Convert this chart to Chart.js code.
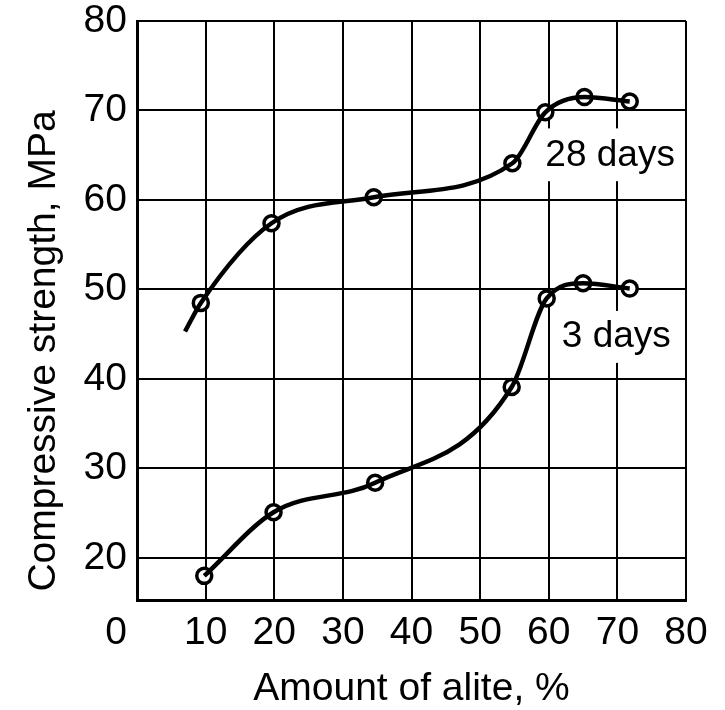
<!DOCTYPE html>
<html><head><meta charset="utf-8">
<script src="https://cdn.jsdelivr.net/npm/chart.js@4.4.1/dist/chart.umd.min.js"></script>
<style>html,body{margin:0;padding:0;background:#fff}#wrap{width:725px;height:710px;position:relative}</style>
</head><body><div id="wrap"><canvas id="c"></canvas></div>
<script>
const FONT = "'Liberation Sans', Arial, Helvetica, sans-serif";

// ---- data ----
const xTickValues = [0, 10, 20, 30, 40, 50, 60, 70, 80];
const yTickValues = [20, 30, 40, 50, 60, 70, 80];
const alite28 = [9.3, 19.6, 34.5, 54.7, 59.5, 65.2, 71.8];
const strength28 = [48.5, 57.4, 60.3, 64.1, 69.8, 71.5, 71.0];
const alite3 = [9.8, 19.9, 34.7, 54.6, 59.7, 65.0, 71.8];
const strength3 = [18.0, 25.1, 28.4, 39.1, 49.0, 50.7, 50.1];
const curveLead28 = [7.0, 45.3];   // start of the drawn 28-day curve (no marker)
const seriesNames = ['28 days', '3 days'];
const xTitle = 'Amount of alite, %';
const yTitle = 'Compressive strength, MPa';

const toPts = (xs, ys) => xs.map((x, i) => ({ x: x, y: ys[i] }));
const curve28 = [{ x: curveLead28[0], y: curveLead28[1] }].concat(toPts(alite28, strength28));
const curve3 = toPts(alite3, strength3);

// label placement in data units
const curveLabels = [
  { text: seriesNames[0], x: 59.5, y: 63.8, box: [59.0, 68.0, 79.2, 62.1] },
  { text: seriesNames[1], x: 61.9, y: 43.55, box: [60.9, 47.6, 79.2, 41.8] }
];

const decor = {
  id: 'decor',
  beforeDraw(chart) {
    const ctx = chart.ctx;
    ctx.save(); ctx.fillStyle = '#fff'; ctx.fillRect(0, 0, chart.width, chart.height); ctx.restore();
  },
  beforeDatasetsDraw(chart) {
    const ctx = chart.ctx, xs = chart.scales.x, ys = chart.scales.y;
    ctx.save();
    ctx.font = '37px ' + FONT;
    ctx.textBaseline = 'alphabetic';
    ctx.textAlign = 'left';
    curveLabels.forEach(l => {
      const x0 = xs.getPixelForValue(l.box[0]), y0 = ys.getPixelForValue(l.box[1]);
      const x1 = xs.getPixelForValue(l.box[2]), y1 = ys.getPixelForValue(l.box[3]);
      ctx.fillStyle = '#fff';
      ctx.fillRect(x0, y0, x1 - x0, y1 - y0);
      ctx.fillStyle = '#000';
      ctx.fillText(l.text, xs.getPixelForValue(l.x), ys.getPixelForValue(l.y));
    });
    ctx.restore();
  },
  afterDraw(chart) {
    const ctx = chart.ctx, xs = chart.scales.x;
    ctx.save();
    ctx.fillStyle = '#000';
    ctx.font = '39px ' + FONT;
    // origin "0" label, set left of the corner as in the reference
    ctx.textAlign = 'center';
    ctx.textBaseline = 'middle';
    ctx.fillText(String(xTickValues[0]), xs.getPixelForValue(0) - 21, chart.chartArea.bottom + 33.4);
    // y-axis title
    ctx.translate(44, 351);
    ctx.rotate(-Math.PI / 2);
    ctx.fillText(yTitle, 0, 0);
    ctx.restore();
  }
};

new Chart(document.getElementById('c'), {
  type: 'scatter',
  data: {
    datasets: [
      { label: seriesNames[0] + ' curve', data: curve28, showLine: true, borderColor: '#000', borderWidth: 4.5,
        pointRadius: 0, cubicInterpolationMode: 'monotone', fill: false },
      { label: seriesNames[1] + ' curve', data: curve3, showLine: true, borderColor: '#000', borderWidth: 4.5,
        pointRadius: 0, cubicInterpolationMode: 'monotone', fill: false },
      { label: seriesNames[0], data: toPts(alite28, strength28), showLine: false, pointRadius: 7.5,
        pointBorderWidth: 3.5, pointBackgroundColor: '#fff', pointBorderColor: '#000' },
      { label: seriesNames[1], data: toPts(alite3, strength3), showLine: false, pointRadius: 7.5,
        pointBorderWidth: 3.5, pointBackgroundColor: '#fff', pointBorderColor: '#000' }
    ]
  },
  options: {
    responsive: true,
    maintainAspectRatio: false,
    animation: false,
    layout: { padding: { top: 21, right: 39, left: 0, bottom: 0 } },
    plugins: { legend: { display: false }, tooltip: { enabled: false } },
    scales: {
      x: {
        type: 'linear', min: 0, max: 80,
        afterBuildTicks: s => { s.ticks = xTickValues.map(v => ({ value: v })); },
        afterFit: s => { s.height = 110; s.paddingLeft = 0; s.paddingRight = 0; },
        ticks: { color: '#000', font: { family: FONT, size: 39, lineHeight: 1.2 }, padding: 10,
          maxRotation: 0, autoSkip: false, callback: v => (v === 0 ? '' : String(v)) },
        grid: { color: '#000', lineWidth: 2, drawTicks: false },
        border: { color: '#000', width: 3 },
        title: { display: true, text: xTitle, color: '#000', font: { family: FONT, size: 39, lineHeight: 1.0 },
          padding: { top: 0, bottom: 1.5 } }
      },
      y: {
        type: 'linear', min: 15.3, max: 80,
        afterBuildTicks: s => { s.ticks = yTickValues.map(v => ({ value: v })); },
        afterFit: s => { s.width = 137; s.paddingTop = 0; s.paddingBottom = 0; },
        ticks: { color: '#000', font: { family: FONT, size: 39, lineHeight: 1.0 }, padding: 10, autoSkip: false },
        grid: { color: '#000', lineWidth: 2, drawTicks: false },
        border: { color: '#000', width: 3 }
      }
    }
  },
  plugins: [decor]
});
</script>
</body></html>
